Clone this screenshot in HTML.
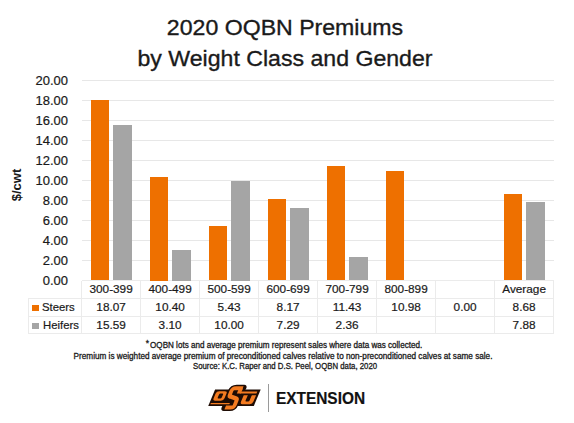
<!DOCTYPE html>
<html><head><meta charset="utf-8">
<style>
html,body{margin:0;padding:0;background:#fff;}
body{width:574px;height:423px;position:relative;overflow:hidden;font-family:"Liberation Sans",sans-serif;color:#1a1a1a;}
.a{position:absolute;}
.t{position:absolute;white-space:nowrap;line-height:1;-webkit-text-stroke:0.2px #1a1a1a;}
</style></head><body>

<div class="a" style="left:81.60px;top:280.00px;width:472.00px;height:1px;background:#EBEBEB"></div>
<div class="a" style="left:81.60px;top:260.00px;width:472.00px;height:1px;background:#E7E7E7"></div>
<div class="a" style="left:81.60px;top:240.00px;width:472.00px;height:1px;background:#E7E7E7"></div>
<div class="a" style="left:81.60px;top:220.00px;width:472.00px;height:1px;background:#E7E7E7"></div>
<div class="a" style="left:81.60px;top:200.00px;width:472.00px;height:1px;background:#E7E7E7"></div>
<div class="a" style="left:81.60px;top:180.00px;width:472.00px;height:1px;background:#E7E7E7"></div>
<div class="a" style="left:81.60px;top:160.00px;width:472.00px;height:1px;background:#E7E7E7"></div>
<div class="a" style="left:81.60px;top:140.00px;width:472.00px;height:1px;background:#E7E7E7"></div>
<div class="a" style="left:81.60px;top:120.00px;width:472.00px;height:1px;background:#E7E7E7"></div>
<div class="a" style="left:81.60px;top:100.00px;width:472.00px;height:1px;background:#E7E7E7"></div>
<div class="a" style="left:81.60px;top:80.00px;width:472.00px;height:1px;background:#E7E7E7"></div>
<div class="a" style="left:90.50px;top:99.80px;width:18.50px;height:180.70px;background:#EE7000"></div>
<div class="a" style="left:113.40px;top:124.60px;width:18.50px;height:155.90px;background:#A5A5A5"></div>
<div class="a" style="left:149.50px;top:176.50px;width:18.50px;height:104.00px;background:#EE7000"></div>
<div class="a" style="left:172.40px;top:249.50px;width:18.50px;height:31.00px;background:#A5A5A5"></div>
<div class="a" style="left:208.50px;top:226.20px;width:18.50px;height:54.30px;background:#EE7000"></div>
<div class="a" style="left:231.40px;top:180.50px;width:18.50px;height:100.00px;background:#A5A5A5"></div>
<div class="a" style="left:267.50px;top:198.80px;width:18.50px;height:81.70px;background:#EE7000"></div>
<div class="a" style="left:290.40px;top:207.60px;width:18.50px;height:72.90px;background:#A5A5A5"></div>
<div class="a" style="left:326.50px;top:166.20px;width:18.50px;height:114.30px;background:#EE7000"></div>
<div class="a" style="left:349.40px;top:256.90px;width:18.50px;height:23.60px;background:#A5A5A5"></div>
<div class="a" style="left:385.50px;top:170.70px;width:18.50px;height:109.80px;background:#EE7000"></div>
<div class="a" style="left:503.50px;top:193.70px;width:18.50px;height:86.80px;background:#EE7000"></div>
<div class="a" style="left:526.40px;top:201.70px;width:18.50px;height:78.80px;background:#A5A5A5"></div>
<div class="a" style="left:28.00px;top:297.50px;width:525.60px;height:1px;background:#EBEBEB"></div>
<div class="a" style="left:28.00px;top:315.80px;width:525.60px;height:1px;background:#EBEBEB"></div>
<div class="a" style="left:28.00px;top:333.10px;width:525.60px;height:1px;background:#EBEBEB"></div>
<div class="a" style="left:81.10px;top:280.50px;width:1px;height:53.10px;background:#EBEBEB"></div>
<div class="a" style="left:140.10px;top:280.50px;width:1px;height:53.10px;background:#EBEBEB"></div>
<div class="a" style="left:199.10px;top:280.50px;width:1px;height:53.10px;background:#EBEBEB"></div>
<div class="a" style="left:258.10px;top:280.50px;width:1px;height:53.10px;background:#EBEBEB"></div>
<div class="a" style="left:317.10px;top:280.50px;width:1px;height:53.10px;background:#EBEBEB"></div>
<div class="a" style="left:376.10px;top:280.50px;width:1px;height:53.10px;background:#EBEBEB"></div>
<div class="a" style="left:435.10px;top:280.50px;width:1px;height:53.10px;background:#EBEBEB"></div>
<div class="a" style="left:494.10px;top:280.50px;width:1px;height:53.10px;background:#EBEBEB"></div>
<div class="a" style="left:553.10px;top:280.50px;width:1px;height:53.10px;background:#EBEBEB"></div>
<div class="a" style="left:27.50px;top:298.00px;width:1px;height:35.60px;background:#EBEBEB"></div>
<div class="t" style="left:285.30px;top:16.91px;font-size:22.50px;font-weight:normal;transform:translateX(-50%) scaleX(1.027);transform-origin:center;-webkit-text-stroke:0.35px #1a1a1a;">2020 OQBN Premiums</div>
<div class="t" style="left:285.30px;top:47.61px;font-size:22.50px;font-weight:normal;transform:translateX(-50%) scaleX(1.027);transform-origin:center;-webkit-text-stroke:0.35px #1a1a1a;">by Weight Class and Gender</div>
<div class="t" style="left:67.80px;top:275.14px;font-size:12.60px;font-weight:normal;transform:translateX(-100%) scaleX(1.030);transform-origin:right;">0.00</div>
<div class="t" style="left:67.80px;top:255.14px;font-size:12.60px;font-weight:normal;transform:translateX(-100%) scaleX(1.030);transform-origin:right;">2.00</div>
<div class="t" style="left:67.80px;top:235.14px;font-size:12.60px;font-weight:normal;transform:translateX(-100%) scaleX(1.030);transform-origin:right;">4.00</div>
<div class="t" style="left:67.80px;top:215.14px;font-size:12.60px;font-weight:normal;transform:translateX(-100%) scaleX(1.030);transform-origin:right;">6.00</div>
<div class="t" style="left:67.80px;top:195.14px;font-size:12.60px;font-weight:normal;transform:translateX(-100%) scaleX(1.030);transform-origin:right;">8.00</div>
<div class="t" style="left:67.80px;top:175.14px;font-size:12.60px;font-weight:normal;transform:translateX(-100%) scaleX(1.030);transform-origin:right;">10.00</div>
<div class="t" style="left:67.80px;top:155.14px;font-size:12.60px;font-weight:normal;transform:translateX(-100%) scaleX(1.030);transform-origin:right;">12.00</div>
<div class="t" style="left:67.80px;top:135.14px;font-size:12.60px;font-weight:normal;transform:translateX(-100%) scaleX(1.030);transform-origin:right;">14.00</div>
<div class="t" style="left:67.80px;top:115.14px;font-size:12.60px;font-weight:normal;transform:translateX(-100%) scaleX(1.030);transform-origin:right;">16.00</div>
<div class="t" style="left:67.80px;top:95.14px;font-size:12.60px;font-weight:normal;transform:translateX(-100%) scaleX(1.030);transform-origin:right;">18.00</div>
<div class="t" style="left:67.80px;top:75.14px;font-size:12.60px;font-weight:normal;transform:translateX(-100%) scaleX(1.030);transform-origin:right;">20.00</div>
<div class="t" style="left:16.8px;top:185.2px;font-size:12px;font-weight:bold;transform:translate(-50%,-50%) rotate(-90deg) scaleX(1.09);-webkit-text-stroke:0;">$/cwt</div>
<div class="t" style="left:111.10px;top:283.70px;font-size:11.80px;font-weight:normal;transform:translateX(-50%) scaleX(1.000);transform-origin:center;">300-399</div>
<div class="t" style="left:111.10px;top:301.50px;font-size:11.80px;font-weight:normal;transform:translateX(-50%) scaleX(1.000);transform-origin:center;">18.07</div>
<div class="t" style="left:111.10px;top:319.60px;font-size:11.80px;font-weight:normal;transform:translateX(-50%) scaleX(1.000);transform-origin:center;">15.59</div>
<div class="t" style="left:170.10px;top:283.70px;font-size:11.80px;font-weight:normal;transform:translateX(-50%) scaleX(1.000);transform-origin:center;">400-499</div>
<div class="t" style="left:170.10px;top:301.50px;font-size:11.80px;font-weight:normal;transform:translateX(-50%) scaleX(1.000);transform-origin:center;">10.40</div>
<div class="t" style="left:170.10px;top:319.60px;font-size:11.80px;font-weight:normal;transform:translateX(-50%) scaleX(1.000);transform-origin:center;">3.10</div>
<div class="t" style="left:229.10px;top:283.70px;font-size:11.80px;font-weight:normal;transform:translateX(-50%) scaleX(1.000);transform-origin:center;">500-599</div>
<div class="t" style="left:229.10px;top:301.50px;font-size:11.80px;font-weight:normal;transform:translateX(-50%) scaleX(1.000);transform-origin:center;">5.43</div>
<div class="t" style="left:229.10px;top:319.60px;font-size:11.80px;font-weight:normal;transform:translateX(-50%) scaleX(1.000);transform-origin:center;">10.00</div>
<div class="t" style="left:288.10px;top:283.70px;font-size:11.80px;font-weight:normal;transform:translateX(-50%) scaleX(1.000);transform-origin:center;">600-699</div>
<div class="t" style="left:288.10px;top:301.50px;font-size:11.80px;font-weight:normal;transform:translateX(-50%) scaleX(1.000);transform-origin:center;">8.17</div>
<div class="t" style="left:288.10px;top:319.60px;font-size:11.80px;font-weight:normal;transform:translateX(-50%) scaleX(1.000);transform-origin:center;">7.29</div>
<div class="t" style="left:347.10px;top:283.70px;font-size:11.80px;font-weight:normal;transform:translateX(-50%) scaleX(1.000);transform-origin:center;">700-799</div>
<div class="t" style="left:347.10px;top:301.50px;font-size:11.80px;font-weight:normal;transform:translateX(-50%) scaleX(1.000);transform-origin:center;">11.43</div>
<div class="t" style="left:347.10px;top:319.60px;font-size:11.80px;font-weight:normal;transform:translateX(-50%) scaleX(1.000);transform-origin:center;">2.36</div>
<div class="t" style="left:406.10px;top:283.70px;font-size:11.80px;font-weight:normal;transform:translateX(-50%) scaleX(1.000);transform-origin:center;">800-899</div>
<div class="t" style="left:406.10px;top:301.50px;font-size:11.80px;font-weight:normal;transform:translateX(-50%) scaleX(1.000);transform-origin:center;">10.98</div>
<div class="t" style="left:465.10px;top:301.50px;font-size:11.80px;font-weight:normal;transform:translateX(-50%) scaleX(1.000);transform-origin:center;">0.00</div>
<div class="t" style="left:524.10px;top:283.70px;font-size:11.80px;font-weight:normal;transform:translateX(-50%) scaleX(1.000);transform-origin:center;">Average</div>
<div class="t" style="left:524.10px;top:301.50px;font-size:11.80px;font-weight:normal;transform:translateX(-50%) scaleX(1.000);transform-origin:center;">8.68</div>
<div class="t" style="left:524.10px;top:319.60px;font-size:11.80px;font-weight:normal;transform:translateX(-50%) scaleX(1.000);transform-origin:center;">7.88</div>
<div class="a" style="left:32px;top:304.5px;width:7px;height:6.5px;background:#EE7000"></div>
<div class="a" style="left:32px;top:322.5px;width:7px;height:6.5px;background:#A5A5A5"></div>
<div class="t" style="left:42.10px;top:301.90px;font-size:11.80px;font-weight:normal;transform:translateX(0) scaleX(0.960);transform-origin:left;">Steers</div>
<div class="t" style="left:42.60px;top:319.60px;font-size:11.80px;font-weight:normal;transform:translateX(0) scaleX(0.960);transform-origin:left;">Heifers</div>
<div class="t" style="left:284.00px;top:340.96px;font-size:8.60px;font-weight:normal;transform:translateX(-50%) scaleX(0.940);transform-origin:center;-webkit-text-stroke:0.3px #1a1a1a;"><span style='font-size:9px;position:relative;top:-1.5px;margin-right:1px'>*</span>OQBN lots and average premium represent sales where data was collected.</div>
<div class="t" style="left:282.75px;top:351.76px;font-size:8.60px;font-weight:normal;transform:translateX(-50%) scaleX(0.952);transform-origin:center;-webkit-text-stroke:0.3px #1a1a1a;">Premium is weighted average premium of preconditioned calves relative to non-preconditioned calves at same sale.</div>
<div class="t" style="left:284.90px;top:361.76px;font-size:8.60px;font-weight:normal;transform:translateX(-50%) scaleX(0.907);transform-origin:center;-webkit-text-stroke:0.3px #1a1a1a;">Source: K.C. Raper and D.S. Peel, OQBN data, 2020</div>
<div class="a" style="left:268px;top:384px;width:1px;height:28px;background:#9a9a9a"></div>
<div class="t" style="left:275.80px;top:391.21px;font-size:16.00px;font-weight:bold;color:#111;transform:translateX(0) scaleX(0.963);transform-origin:left;">EXTENSION</div>
<svg class="a" style="left:206px;top:382px" width="56" height="31" viewBox="0 0 56 31">
<defs><path id="sp" d="M29.3,6.3 L21.8,6.3 Q19.1,6.3 19.1,9 L19.1,12.2 Q19.1,14.2 21,14.7 L26.5,16.4 Q28.3,17 28.3,19 L28.3,22.9 Q28.3,25.4 25.8,25.4 L19.8,25.4"/></defs>
<g transform="matrix(1,0,-0.42,1,10.08,0)">
<rect x="2.2" y="7.6" width="45.6" height="16.3" fill="#1f0c04"/>
<use href="#sp" fill="none" stroke="#1f0c04" stroke-width="7.2" stroke-linejoin="round" stroke-linecap="round"/>
<rect x="4.4" y="9.2" width="10.9" height="9.5" rx="2.6" ry="2.4" fill="#F47B20"/>
<rect x="8.2" y="11.4" width="4" height="5.2" rx="1" fill="#1f0c04"/>
<rect x="3.6" y="21" width="19" height="1.3" fill="#F47B20"/>
<rect x="25.6" y="6.3" width="4" height="5.2" fill="#F47B20"/>
<rect x="28.5" y="9.4" width="16.7" height="2.1" fill="#F47B20"/>
<path fill="#F47B20" d="M33.2,13.2 H45.6 V19.6 Q45.6,22.2 43,22.2 H35.8 Q33.2,22.2 33.2,19.6 Z"/>
<rect x="37.3" y="12" width="4" height="7.6" rx="1" fill="#1f0c04"/>
<use href="#sp" fill="none" stroke="#F47B20" stroke-width="4" stroke-linejoin="round"/>
</g>
</svg>
</body></html>
